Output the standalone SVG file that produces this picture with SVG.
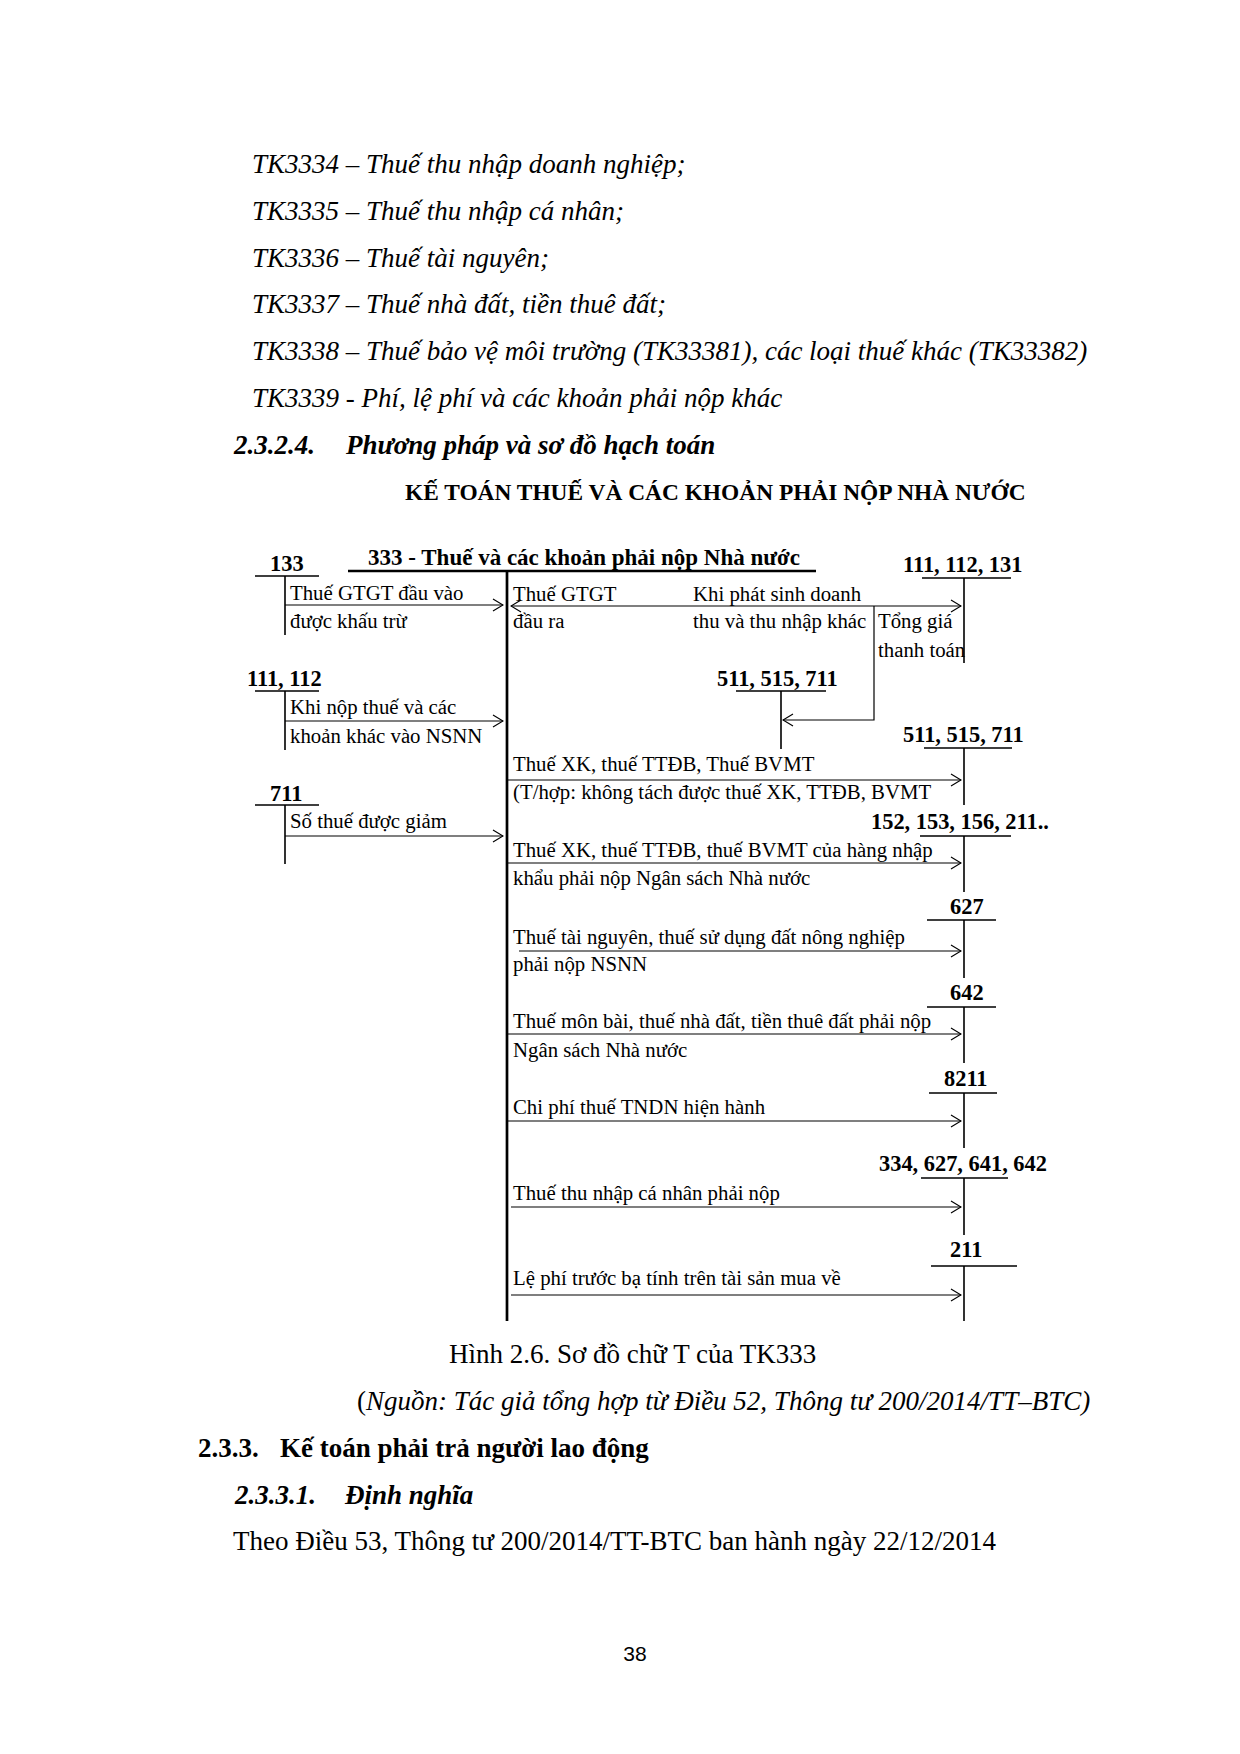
<svg xmlns="http://www.w3.org/2000/svg" width="1240" height="1754" viewBox="0 0 1240 1754">
<defs>
<style>
.body{font-family:"Liberation Serif",serif;font-size:27px;font-style:italic;fill:#000}
.reg{font-family:"Liberation Serif",serif;font-size:27px;fill:#000}
.hbi{font-family:"Liberation Serif",serif;font-size:27px;font-style:italic;font-weight:bold;fill:#000}
.hb{font-family:"Liberation Serif",serif;font-size:27px;font-weight:bold;fill:#000}
.title{font-family:"Liberation Serif",serif;font-size:23.4px;font-weight:bold;fill:#000}
.d{font-family:"Liberation Serif",serif;font-size:20.8px;fill:#000}
.n{font-family:"Liberation Serif",serif;font-size:22.4px;font-weight:bold;fill:#000}
.acc{stroke:#000;stroke-width:1.6;fill:none}
.main{stroke:#000;stroke-width:2.7;fill:none}
.arr{stroke:#000;stroke-width:1.2;fill:none;marker-end:url(#ah)}
.pg{font-family:"Liberation Sans",sans-serif;font-size:21px;fill:#000}
</style>
<marker id="ah" viewBox="0 0 12 14" refX="11" refY="7" markerWidth="12" markerHeight="14" markerUnits="userSpaceOnUse" orient="auto-start-reverse">
<path d="M1,1 L11,7 L1,13" stroke="#000" stroke-width="1.2" fill="none"/>
</marker>
</defs>
<rect width="1240" height="1754" fill="#fff"/>

<g id="page-text">
<text class="body" x="252" y="173">TK3334 – Thuế thu nhập doanh nghiệp;</text>
<text class="body" x="252" y="220">TK3335 – Thuế thu nhập cá nhân;</text>
<text class="body" x="252" y="267">TK3336 – Thuế tài nguyên;</text>
<text class="body" x="252" y="313">TK3337 – Thuế nhà đất, tiền thuê đất;</text>
<text class="body" x="252" y="360">TK3338 – Thuế bảo vệ môi trường (TK33381), các loại thuế khác (TK33382)</text>
<text class="body" x="252" y="407">TK3339 - Phí, lệ phí và các khoản phải nộp khác</text>
<text class="hbi" x="234" y="454">2.3.2.4.</text>
<text class="hbi" x="346" y="454">Phương pháp và sơ đồ hạch toán</text>
<text class="title" x="405" y="500">KẾ TOÁN THUẾ VÀ CÁC KHOẢN PHẢI NỘP NHÀ NƯỚC</text>
<text class="reg" x="449" y="1363">Hình 2.6. Sơ đồ chữ T của TK333</text>
<text class="body" x="357" y="1410"><tspan font-style="normal">(</tspan>Nguồn: Tác giả tổng hợp từ Điều 52, Thông tư 200/2014/TT–BTC)</text>
<text class="hb" x="198" y="1457">2.3.3.</text>
<text class="hb" x="280" y="1457">Kế toán phải trả người lao động</text>
<text class="hbi" x="235" y="1504">2.3.3.1.</text>
<text class="hbi" x="345" y="1504">Định nghĩa</text>
<text class="reg" x="233" y="1550">Theo Điều 53, Thông tư 200/2014/TT-BTC ban hành ngày 22/12/2014</text>
<text class="pg" x="635" y="1661" text-anchor="middle">38</text>
</g>

<g id="tk333">
<text class="n" x="368" y="565" textLength="432" lengthAdjust="spacingAndGlyphs">333 - Thuế và các khoản phải nộp Nhà nước</text>
<path class="main" d="M348,571 H816"/>
<path class="main" d="M507,571 V1321"/>
</g>

<g id="tk133">
<text class="n" x="270" y="571">133</text>
<path class="acc" d="M255,576 H319 M285,576 V635"/>
</g>
<g id="tk111-112">
<text class="n" x="247" y="686">111, 112</text>
<path class="acc" d="M255,691 H319 M285,691 V750"/>
</g>
<g id="tk711">
<text class="n" x="270" y="801">711</text>
<path class="acc" d="M255,805 H319 M285,805 V864"/>
</g>

<g id="tk111-112-131">
<text class="n" x="903" y="572">111, 112, 131</text>
<path class="acc" d="M922,578 H1011 M964,578 V663"/>
</g>
<g id="tk511-515-711-a">
<text class="n" x="717" y="686">511, 515, 711</text>
<path class="acc" d="M736,691 H826 M781,691 V749"/>
</g>
<g id="tk511-515-711-b">
<text class="n" x="903" y="742">511, 515, 711</text>
<path class="acc" d="M924,748 H1012 M964,748 V805"/>
</g>
<g id="tk152">
<text class="n" x="871" y="829">152, 153, 156, 211..</text>
<path class="acc" d="M920,836 H1011 M964,836 V892"/>
</g>
<g id="tk627">
<text class="n" x="950" y="914">627</text>
<path class="acc" d="M927,920 H996 M964,920 V978"/>
</g>
<g id="tk642">
<text class="n" x="950" y="1000">642</text>
<path class="acc" d="M927,1007 H996 M964,1007 V1063"/>
</g>
<g id="tk8211">
<text class="n" x="944" y="1086">8211</text>
<path class="acc" d="M929,1093 H997 M964,1093 V1148"/>
</g>
<g id="tk334">
<text class="n" x="879" y="1171">334, 627, 641, 642</text>
<path class="acc" d="M921,1178 H1008 M964,1178 V1235"/>
</g>
<g id="tk211">
<text class="n" x="950" y="1257">211</text>
<path class="acc" d="M931,1266 H1017 M964,1266 V1321"/>
</g>

<g id="connectors">
<path class="arr" d="M285,605 H503"/>
<path class="arr" d="M285,721 H503"/>
<path class="arr" d="M285,836 H503"/>
<path class="arr" d="M511,606 H961" marker-start="url(#ah)"/>
<path class="arr" d="M874,606 V720 H783"/>
<path class="arr" d="M507,780 H961"/>
<path class="arr" d="M507,863 H961"/>
<path class="arr" d="M519,951 H961"/>
<path class="arr" d="M507,1034 H961"/>
<path class="arr" d="M507,1121 H961"/>
<path class="arr" d="M511,1207 H961"/>
<path class="arr" d="M511,1295 H961"/>
</g>

<g id="connector-labels">
<text class="d" x="290" y="600">Thuế GTGT đầu vào</text>
<text class="d" x="290" y="628">được khấu trừ</text>
<text class="d" x="290" y="714">Khi nộp thuế và các</text>
<text class="d" x="290" y="743">khoản khác vào NSNN</text>
<text class="d" x="290" y="828">Số thuế được giảm</text>
<text class="d" x="513" y="601">Thuế GTGT</text>
<text class="d" x="513" y="628">đầu ra</text>
<text class="d" x="693" y="601">Khi phát sinh doanh</text>
<text class="d" x="693" y="628">thu và thu nhập khác</text>
<text class="d" x="878" y="628">Tổng giá</text>
<text class="d" x="878" y="657">thanh toán</text>
<text class="d" x="513" y="771">Thuế XK, thuế TTĐB, Thuế BVMT</text>
<text class="d" x="513" y="799">(T/hợp: không tách được thuế XK, TTĐB, BVMT</text>
<text class="d" x="513" y="857">Thuế XK, thuế TTĐB, thuế BVMT của hàng nhập</text>
<text class="d" x="513" y="885">khẩu phải nộp Ngân sách Nhà nước</text>
<text class="d" x="513" y="944">Thuế tài nguyên, thuế sử dụng đất nông nghiệp</text>
<text class="d" x="513" y="971">phải nộp NSNN</text>
<text class="d" x="513" y="1028">Thuế môn bài, thuế nhà đất, tiền thuê đất phải nộp</text>
<text class="d" x="513" y="1057">Ngân sách Nhà nước</text>
<text class="d" x="513" y="1114">Chi phí thuế TNDN hiện hành</text>
<text class="d" x="513" y="1200">Thuế thu nhập cá nhân phải nộp</text>
<text class="d" x="513" y="1285">Lệ phí trước bạ tính trên tài sản mua về</text>
</g>
</svg>
